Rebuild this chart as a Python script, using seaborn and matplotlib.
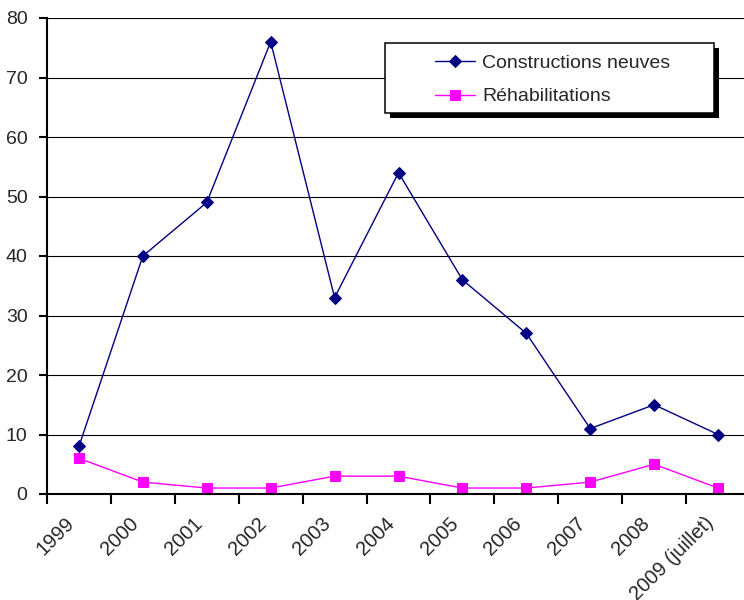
import numpy as np
import pandas as pd
import matplotlib
matplotlib.use("Agg")
import matplotlib.pyplot as plt
from matplotlib.patches import Rectangle
from matplotlib.transforms import ScaledTranslation
import seaborn as sns

# Data
years = ["1999", "2000", "2001", "2002", "2003", "2004", "2005",
         "2006", "2007", "2008", "2009 (juillet)"]
constructions_neuves = [8, 40, 49, 76, 33, 54, 36, 27, 11, 15, 10]
rehabilitations = [6, 2, 1, 1, 3, 3, 1, 1, 2, 5, 1]
yticks = [0, 10, 20, 30, 40, 50, 60, 70, 80]

sns.set_theme(style="white")
plt.rcParams["font.family"] = ["Liberation Sans", "DejaVu Sans"]

W, H = 744, 600
fig = plt.figure(figsize=(W / 100, H / 100), dpi=100)
fig.patch.set_facecolor("white")

def fx(px):
    return px / W

def fy(py):
    return 1 - py / H

left, right, top, bottom = 47, 750, 18, 494
ax = fig.add_axes([fx(left), fy(bottom), fx(right - left), (bottom - top) / H])
ax.set_facecolor("white")

pos = np.arange(len(years))
df = pd.DataFrame({"pos": pos, "cn": constructions_neuves, "rh": rehabilitations})

# horizontal gridlines
for v in yticks[1:]:
    ax.axhline(v, color="black", lw=0.8, zorder=1)

sns.lineplot(data=df, x="pos", y="cn", ax=ax, color="#000080", lw=1.0,
             marker="D", markersize=6.5, markeredgecolor="#000080",
             markerfacecolor="#000080", label="Constructions neuves",
             legend=False, zorder=3)
sns.lineplot(data=df, x="pos", y="rh", ax=ax, color="#FF00FF", lw=1.0,
             marker="s", markersize=6.5, markeredgecolor="#FF00FF",
             markerfacecolor="#FF00FF", label="Réhabilitations",
             legend=False, zorder=3)

ax.set_xlim(-0.5, len(years) - 0.5)
ax.set_ylim(0, 80)
ax.set_yticks(yticks)
ax.set_yticklabels([str(v) for v in yticks], fontsize=14)
ax.set_xticks(pos)
ax.set_xticklabels(years, fontsize=14.5, rotation=45, ha="right",
                   va="top", rotation_mode="anchor")
ax.set_xticks(np.r_[-0.5, pos + 0.5], minor=True)
ax.tick_params(axis="x", which="major", length=0, pad=14)
ax.tick_params(axis="x", which="minor", length=7, width=1.5,
               color="black", direction="out", bottom=True)
ax.tick_params(axis="y", length=6, width=1.5, color="black",
               direction="out", left=True, pad=8)
ax.set_xlabel("")
ax.set_ylabel("")

# move rotated year labels so their upper end sits just left of each point
shift = ScaledTranslation(-14 / 100, 0, fig.dpi_scale_trans)
for lbl in ax.get_xticklabels():
    lbl.set_transform(lbl.get_transform() + shift)

for s in ["top", "right"]:
    ax.spines[s].set_visible(False)
for s in ["left", "bottom"]:
    ax.spines[s].set_color("black")
    ax.spines[s].set_linewidth(1.5)
    ax.spines[s].set_zorder(4)

# legend box with drop shadow
bx0, by0, bx1, by1 = 385, 43, 714, 113
fig.patches.append(Rectangle((fx(bx0 + 5), fy(by1 + 5)), fx(bx1 - bx0), (by1 - by0) / H,
                             transform=fig.transFigure, facecolor="black",
                             edgecolor="none", zorder=2))
fig.patches.append(Rectangle((fx(bx0), fy(by1)), fx(bx1 - bx0), (by1 - by0) / H,
                             transform=fig.transFigure, facecolor="white",
                             edgecolor="black", lw=1.1, zorder=3))
handles, labels = ax.get_legend_handles_labels()
leg = fig.legend(handles, labels, loc="center",
                 bbox_to_anchor=(fx((bx0 + bx1) / 2 + 3), fy((by0 + by1) / 2 + 2)),
                 frameon=False, fontsize=14, handlelength=2.1,
                 handletextpad=0.35, labelspacing=0.8, borderpad=0.2)
leg.set_zorder(5)

fig.savefig("out.png", dpi=100, facecolor="white")
